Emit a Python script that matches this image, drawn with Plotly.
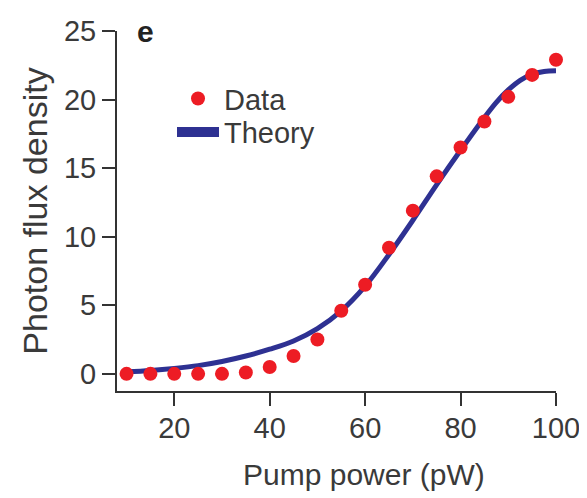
"""Photon flux density vs pump power, data with theory curve."""

import plotly.graph_objects as go

# Measured points
pump_data = [10, 15, 20, 25, 30, 35, 40, 45, 50, 55, 60, 65, 70, 75, 80, 85, 90, 95, 100]
flux_data = [0.0, 0.0, 0.0, 0.0, 0.0, 0.1, 0.5, 1.3, 2.5, 4.6, 6.5, 9.2, 11.9, 14.4,
             16.5, 18.4, 20.2, 21.8, 22.9]

# Theory curve
pump_theory = [10, 15, 20, 25, 30, 35, 40, 45, 50, 55, 60, 65, 70, 75, 80, 85,
               87.5, 90, 92.5, 95, 97.5, 100]
flux_theory = [0.15, 0.25, 0.4, 0.6, 0.9, 1.3, 1.8, 2.4, 3.3, 4.6, 6.4, 8.7, 11.2, 13.8,
               16.3, 18.7, 19.8, 20.7, 21.4, 21.85, 22.05, 22.1]

x_ticks = [20, 40, 60, 80, 100]
y_ticks = [0, 5, 10, 15, 20, 25]

RED = "#ed1c24"
BLUE = "#2e3192"
TEXT = "#3a3a3a"
FONT = "Liberation Sans, Arial, sans-serif"

fig = go.Figure()

fig.add_trace(go.Scatter(
    x=pump_theory, y=flux_theory,
    mode="lines",
    name="Theory",
    line=dict(color=BLUE, width=5, shape="spline"),
    cliponaxis=False,
    showlegend=False,
))

# legend-only entry, drawn with the thicker bar the reference uses
fig.add_trace(go.Scatter(
    x=[None], y=[None],
    mode="lines",
    name="Theory",
    line=dict(color=BLUE, width=10),
    legend="legend2",
))

fig.add_trace(go.Scatter(
    x=pump_data, y=flux_data,
    mode="markers",
    name="Data",
    marker=dict(color=RED, size=14),
    cliponaxis=False,
    legend="legend",
))

# panel letter
fig.add_annotation(
    text="<b>e</b>", xref="paper", yref="paper",
    x=0.064, y=1.0, xanchor="center", yanchor="middle",
    showarrow=False,
    font=dict(family=FONT, size=30, color="#222"),
)

# x-axis title, sits a little right of the axis centre in the reference
fig.add_annotation(
    text="Pump power (pW)", xref="paper", yref="paper",
    x=0.5626, y=-0.231, xanchor="center", yanchor="middle",
    showarrow=False,
    font=dict(family=FONT, size=30, color=TEXT),
)

axis_common = dict(
    showline=True, linecolor="#333", linewidth=2,
    ticks="outside", ticklen=13, tickwidth=2, tickcolor="#333",
    showgrid=False, zeroline=False, automargin=False,
    tickfont=dict(family=FONT, size=29, color=TEXT),
)

fig.update_xaxes(
    range=[8, 100], tickvals=x_ticks, ticklabelstandoff=-3,
    **axis_common,
)
fig.update_yaxes(
    range=[-1.25, 25], tickvals=y_ticks,
    title=dict(text="Photon flux density", font=dict(family=FONT, size=34, color=TEXT), standoff=6),
    **axis_common,
)

legend_common = dict(
    xanchor="left", yanchor="top",
    font=dict(family=FONT, size=29, color=TEXT),
    bgcolor="rgba(0,0,0,0)", itemsizing="trace", itemwidth=42,
)

fig.update_layout(
    width=579, height=490,
    margin=dict(l=109, r=31, t=23, b=107),
    plot_bgcolor="white", paper_bgcolor="white",
    showlegend=True,
    legend=dict(x=0.1253, y=0.883, **legend_common),
    legend2=dict(x=0.1253, y=0.79, **legend_common),
)

fig.write_html("out.html")
